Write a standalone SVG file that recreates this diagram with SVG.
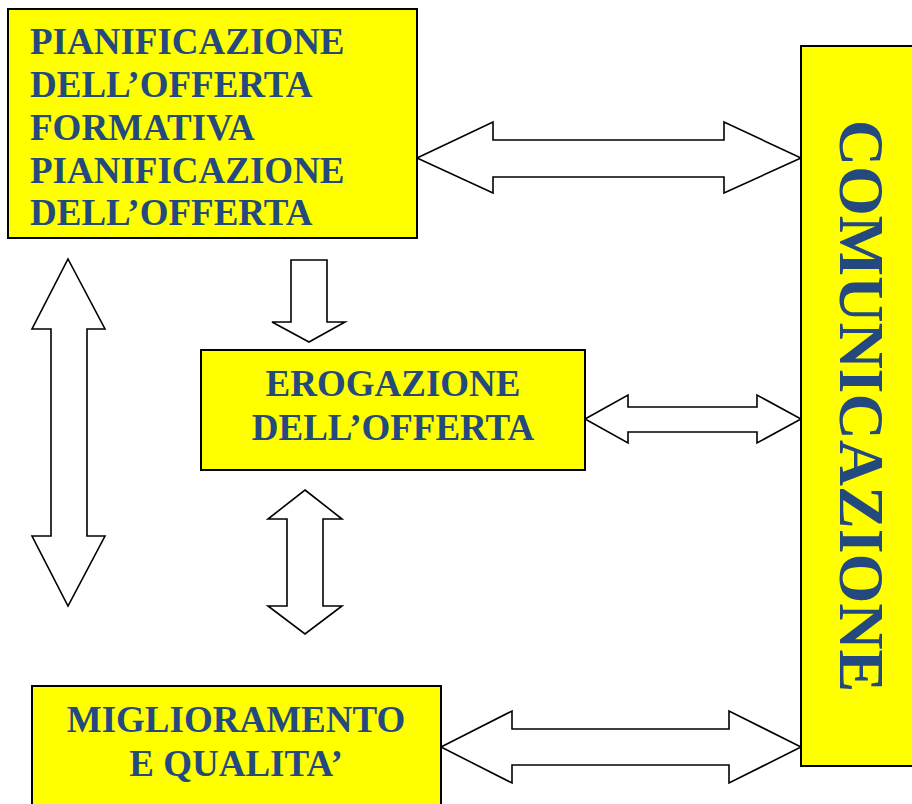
<svg xmlns="http://www.w3.org/2000/svg" width="912" height="804" viewBox="0 0 912 804">
<style>
.box{fill:#ffff00;stroke:#000;stroke-width:2}
.lbl{font-family:"Liberation Serif","Times New Roman",serif;font-weight:bold;font-size:37px;fill:#23497e}
.arr{fill:#fff;stroke:#000;stroke-width:1.6;stroke-linejoin:miter}
</style>
<rect width="912" height="804" fill="#fff"/>
<g id="connectors">
<polygon class="arr" points="417,158 493,122 493,140 724,140 724,122 801,158 724,193 724,177 493,177 493,193"/>
<polygon class="arr" points="585,419 628,395 628,407 757,407 757,395 801,419 757,443 757,432 628,432 628,443"/>
<polygon class="arr" points="441,747 512,711 512,729 729,729 729,711 801,747 729,783 729,765 512,765 512,783"/>
<polygon class="arr" points="291,260 327,260 327,322 345,322 309,342 272,322 291,322"/>
<polygon class="arr" points="305,490 342,519 323,519 323,606 342,606 305,634 268,606 287,606 287,519 268,519"/>
<polygon class="arr" points="68,259 105,329 87,329 87,536 105,536 68,606 32,536 51,536 51,329 32,329"/>
</g>
<g id="node-pianificazione">
<rect class="box" x="8" y="9" width="409" height="229"/>
<text class="lbl" x="30" y="54">PIANIFICAZIONE</text>
<text class="lbl" x="30" y="97">DELL’OFFERTA</text>
<text class="lbl" x="30" y="140">FORMATIVA</text>
<text class="lbl" x="30" y="183">PIANIFICAZIONE</text>
<text class="lbl" x="30" y="225">DELL’OFFERTA</text>
</g>
<g id="node-erogazione">
<rect class="box" x="201" y="350" width="384" height="120"/>
<text class="lbl" x="393" y="396" text-anchor="middle">EROGAZIONE</text>
<text class="lbl" x="393" y="440" text-anchor="middle">DELL’OFFERTA</text>
</g>
<g id="node-miglioramento">
<rect class="box" x="32" y="686" width="409" height="130"/>
<text class="lbl" x="236" y="732" text-anchor="middle">MIGLIORAMENTO</text>
<text class="lbl" x="236" y="776" text-anchor="middle">E QUALITA’</text>
</g>
<g id="node-comunicazione">
<rect class="box" x="801" y="46" width="130" height="720"/>
<text class="lbl" style="font-size:64px" text-anchor="middle" transform="translate(840,406) rotate(90)">COMUNICAZIONE</text>
</g>
</svg>
